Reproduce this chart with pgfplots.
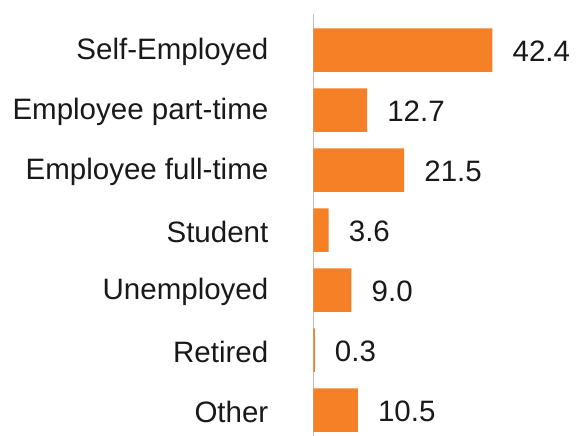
\documentclass[border=0pt]{standalone}
\usepackage{pgfplots}
\pgfplotsset{compat=1.18}
\usepackage{fontspec}
\setmainfont{Liberation Sans}
\definecolor{barorange}{RGB}{245,128,38}
\definecolor{txt}{RGB}{25,25,25}
\definecolor{axgray}{RGB}{190,190,190}
\begin{document}
\begin{tikzpicture}
\path[use as bounding box] (-313.5bp,0) rectangle (262.5bp,436bp);
\begin{axis}[
  at={(0,0)}, anchor=south west,
  scale only axis,
  width=262.5bp, height=422bp,
  xmin=0, xmax=62.2,
  ymin=-0.6, ymax=6.43,
  y dir=reverse,
  xbar, bar width=43.5bp, bar shift=0pt,
  axis x line=none,
  axis y line*=left,
  y axis line style={draw=axgray, line width=1.5bp},
  ytick={0,1,2,3,4,5,6},
  yticklabels={Self-Employed, Employee part-time, Employee full-time, Student, Unemployed, Retired, Other},
  major tick length=0pt,
  yticklabel style={font=\fontsize{29.5bp}{34bp}\selectfont, text=txt, inner sep=0pt, anchor=east, xshift=-45bp, yshift=-1.5bp},
  clip=false,
  nodes near coords={\pgfmathprintnumber[fixed,fixed zerofill,precision=1,assume math mode=true]{\pgfplotspointmeta}},
  nodes near coords style={font=\fontsize{29.5bp}{34bp}\selectfont, text=txt, inner sep=0pt, anchor=west, xshift=20bp, yshift=-1.5bp},
  point meta=explicit,
]
\addplot[fill=barorange, draw=none] table[x=v, y=i, meta=v] {
i v
0 42.4
1 12.7
2 21.5
3 3.6
4 9.0
5 0.3
6 10.5
};
\end{axis}
\end{tikzpicture}
\end{document}
